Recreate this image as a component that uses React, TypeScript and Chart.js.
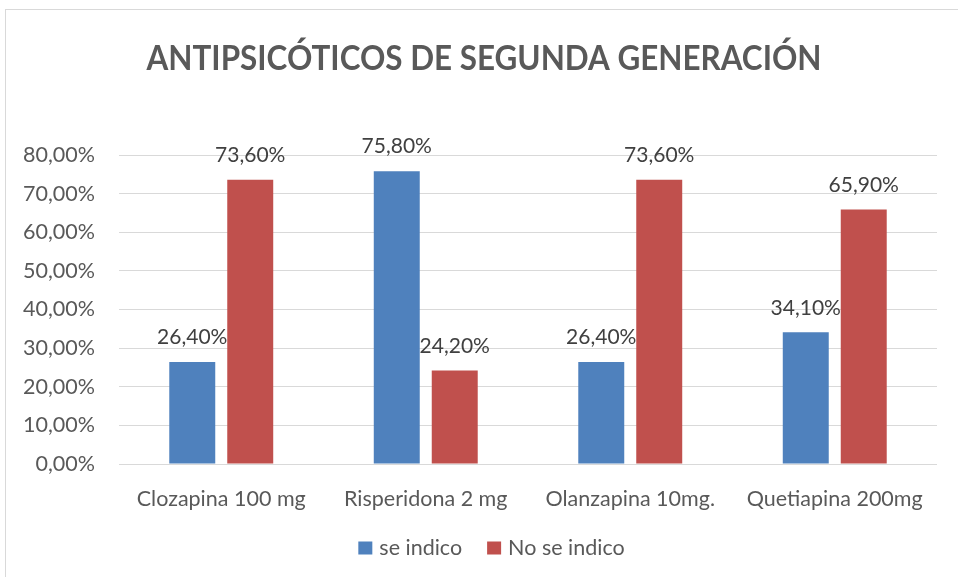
import React, { useEffect, useRef } from "react";
import { Chart, registerables } from "chart.js";

Chart.register(...registerables);

const categories = ["Clozapina 100 mg", "Risperidona 2 mg", "Olanzapina 10mg.", "Quetiapina 200mg"];
const seIndico = [26.4, 75.8, 26.4, 34.1];
const noSeIndico = [73.6, 24.2, 73.6, 65.9];
const seriesNames = ["se indico", "No se indico"];
const seriesColors = ["#4F81BD", "#C0504D"];
const titleText = "ANTIPSICÓTICOS DE SEGUNDA GENERACIÓN";

const FONT = "Lato, 'Open Sans', sans-serif";
const fmt = (v: number) => v.toFixed(2).replace(".", ",") + "%";

const frame = {
  id: "frame",
  beforeDraw(chart: any) {
    const ctx = chart.ctx;
    ctx.save();
    ctx.fillStyle = "#ffffff";
    ctx.fillRect(0, 0, chart.width, chart.height);
    ctx.strokeStyle = "#d9d9d9";
    ctx.lineWidth = 1;
    ctx.strokeRect(5.5, 9.5, 1200, 1200);
    ctx.restore();
  },
};

const titleDraw = {
  id: "titleDraw",
  afterDraw(chart: any) {
    const ctx = chart.ctx;
    ctx.save();
    ctx.font = `bold 34px ${FONT}`;
    ctx.fillStyle = "#595959";
    ctx.textAlign = "center";
    ctx.textBaseline = "alphabetic";
    const w = ctx.measureText(titleText).width;
    ctx.translate(484, 70);
    ctx.scale(675 / w, 1);
    ctx.fillText(titleText, 0, 0);
    ctx.restore();
  },
};

const legendDraw = {
  id: "legendDraw",
  afterDraw(chart: any) {
    const ctx = chart.ctx;
    ctx.save();
    ctx.font = `21.5px ${FONT}`;
    ctx.textBaseline = "middle";
    ctx.textAlign = "left";
    const box = 14, gap = 7, spacing = 25;
    const items = chart.data.datasets.map((ds: any) => ({ label: ds.label, color: ds.backgroundColor, w: ctx.measureText(ds.label).width }));
    const total = items.reduce((a: number, it: any) => a + box + gap + it.w, 0) + spacing * (items.length - 1);
    let x = 491.5 - total / 2;
    const cy = 548;
    items.forEach((it: any) => {
      ctx.fillStyle = it.color;
      ctx.fillRect(x, cy - 6.5, box, 13);
      ctx.fillStyle = "#595959";
      ctx.fillText(it.label, x + box + gap, cy);
      x += box + gap + it.w + spacing;
    });
    ctx.restore();
  },
};

const dataLabels = {
  id: "dataLabels",
  afterDatasetsDraw(chart: any) {
    const ctx = chart.ctx;
    ctx.save();
    ctx.font = `21px ${FONT}`;
    ctx.fillStyle = "#404040";
    ctx.textAlign = "center";
    ctx.textBaseline = "bottom";
    chart.data.datasets.forEach((ds: any, i: number) => {
      const meta = chart.getDatasetMeta(i);
      meta.data.forEach((bar: any, j: number) => {
        ctx.fillText(fmt(ds.data[j]), bar.x, bar.y - 14);
      });
    });
    ctx.restore();
  },
};

export default function App() {
  const ref = useRef<HTMLCanvasElement>(null);
  useEffect(() => {
    const chart = new Chart(ref.current!, {
      type: "bar",
      data: {
        labels: categories,
        datasets: [
          { label: seriesNames[0], data: seIndico, backgroundColor: seriesColors[0], categoryPercentage: 0.567, barPercentage: 0.793 },
          { label: seriesNames[1], data: noSeIndico, backgroundColor: seriesColors[1], categoryPercentage: 0.567, barPercentage: 0.793 },
        ],
      },
      options: {
        responsive: false,
        animation: false,
        layout: { padding: { left: 0, right: 21, top: 155, bottom: 60 } },
        plugins: {
          title: { display: false },
          legend: { display: false },
          tooltip: { enabled: false },
        },
        scales: {
          x: {
            grid: { display: false, drawTicks: false },
            border: { display: false },
            ticks: { color: "#595959", font: { family: FONT, size: 21.5 }, padding: 22, maxRotation: 0 },
            afterFit: (s: any) => { s.height = 53; },
          },
          y: {
            min: 0,
            max: 80,
            grid: { color: "#d9d9d9", lineWidth: 1, drawTicks: false },
            border: { display: false },
            ticks: { stepSize: 10, color: "#595959", font: { family: FONT, size: 21.5 }, padding: 24, callback: (v: any) => fmt(Number(v)) },
            afterFit: (s: any) => { s.width = 119; },
          },
        },
      },
      plugins: [frame, dataLabels, titleDraw, legendDraw],
    });
    return () => chart.destroy();
  }, []);
  return (
    <div style={{ position: "absolute", left: 0, top: 0, width: 958, height: 577 }}>
      <canvas ref={ref} width={958} height={577} style={{ display: "block" }} />
    </div>
  );
}
